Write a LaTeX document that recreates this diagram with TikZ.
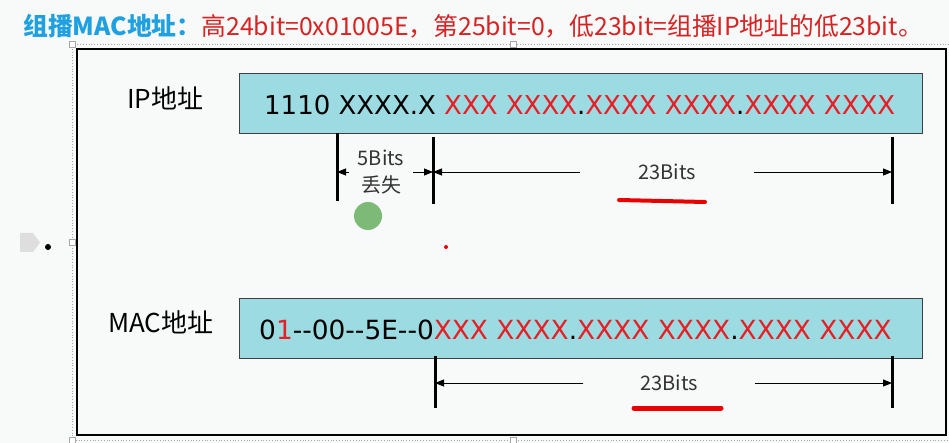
\documentclass[tikz,border=0pt]{standalone}
\usepackage{fontspec}
\setmainfont{Noto Sans CJK SC}
\newfontfamily\addrfont{DejaVu Sans}
\usetikzlibrary{arrows.meta}

\definecolor{pageBg}{RGB}{248,250,249}
\definecolor{addrFill}{RGB}{155,219,225}
\definecolor{addrRed}{RGB}{232,30,36}
\definecolor{titleBlue}{RGB}{30,160,225}
\definecolor{titleRed}{RGB}{215,35,35}
\definecolor{markGreen}{RGB}{125,186,120}
\definecolor{penRed}{RGB}{235,0,0}

\newcommand{\rx}[1]{\textcolor{addrRed}{#1}}

\tikzset{
  addrbox/.style={draw=black!75, line width=1.2pt, fill=addrFill,
    minimum width=683pt, minimum height=60pt, inner sep=0pt},
  addrtext/.style={inner sep=0pt, anchor=base west,
    font=\addrfont\fontsize{26}{30}\selectfont},
  addrlabel/.style={inner sep=0pt, anchor=west, font=\fontsize{26}{30}\selectfont},
  dimtick/.style={line width=3pt},
  dimline/.style={line width=0.8pt, -{Triangle[length=9pt,width=7pt]}},
  dimlabel/.style={inner sep=0pt, align=center, text=black!80,
    font=\fontsize{20}{27}\selectfont},
}

\begin{document}
\begin{tikzpicture}[x=1pt,y=-1pt]
  \fill[pageBg] (0,0) rectangle (949,443);
  \useasboundingbox (0,0) rectangle (949,443);
  % title line
  \node[anchor=base west, inner sep=0pt, font=\fontsize{24.8}{28}\selectfont] (title) at (23,36)
    {\textcolor{titleBlue}{\bfseries 组播MAC地址：}\textcolor{titleRed}{高24bit=0x01005E，第25bit=0，低23bit=组播IP地址的低23bit。}};
  % selection outline with handles
  \draw[gray!70, dotted, line width=0.8pt] (949,44) -- (72,44) -- (72,440) -- (949,440);
  \foreach \h in {(72,44),(513,44),(72,242),(72,440),(513,440)}
    \draw[gray!70, fill=white, line width=0.6pt] \h +(-3,-3) rectangle +(3,3);
  % slide frame and bullet
  \draw[line width=2.5pt, fill=pageBg] (77,49) rectangle (946,435);
  \fill[black!13] (20,233) -- (33,233) -- (40,242.5) -- (33,252) -- (20,252) -- cycle;
  \fill (48,247) circle (3pt);

  % the two addresses
  \node[addrbox, anchor=north west] (ipbox) at (239,73) {};
  \node[addrbox, anchor=north west] (macbox) at (239,298) {};
  \node[addrtext] (iptext) at (264,115)
    {1110 XXXX.X \rx{XXX XXXX}.\rx{XXXX XXXX}.\rx{XXXX XXXX}};
  \node[addrtext, font=\addrfont\fontsize{26.4}{30}\selectfont] (mactext) at (259,339)
    {0\rx{1}-{}-00-{}-5E-{}-0\rx{XXX XXXX}.\rx{XXXX XXXX}.\rx{XXXX XXXX}};
  \node[addrlabel] (iplabel) at (127,98) {IP地址};
  \node[addrlabel] (maclabel) at (108,322) {MAC地址};

  % tick marks, at the height of the arrows
  \coordinate (ipT1) at (337,172);
  \coordinate (ipT2) at (433,172);
  \coordinate (ipT3) at (892,172);
  \coordinate (macT1) at (435,383);
  \coordinate (macT2) at (892,383);
  \foreach \t/\up/\dn in {ipT1/39/29, ipT2/35/32, ipT3/35/32, macT1/27/25, macT2/27/25}
    \draw[dimtick] ([yshift=\up pt]\t) -- ([yshift=-\dn pt]\t);

  % widths
  \node[dimlabel, minimum width=64pt] (lostbits) at (381,172) {5Bits\\丢失};
  \node[dimlabel, minimum width=173pt] (ipbits) at (667,172) {23Bits};
  \node[dimlabel, minimum width=171pt] (macbits) at (669,383) {23Bits};
  \draw[dimline] (lostbits.west) -- (ipT1);
  \draw[dimline] (lostbits.east) -- (ipT2);
  \draw[dimline] (ipbits.west) -- (ipT2);
  \draw[dimline] (ipbits.east) -- (ipT3);
  \draw[dimline] (macbits.west) -- (macT1);
  \draw[dimline] (macbits.east) -- (macT2);

  % pen marks
  \draw[penRed, line width=4pt, line cap=round] (619,200) -- (705,202);
  \draw[penRed, line width=5pt, line cap=round] (634,408) -- (721,408);
  \fill[markGreen] (368,216) circle (14pt);
  \fill[penRed] (446,247) circle (2pt);
\end{tikzpicture}
\end{document}
